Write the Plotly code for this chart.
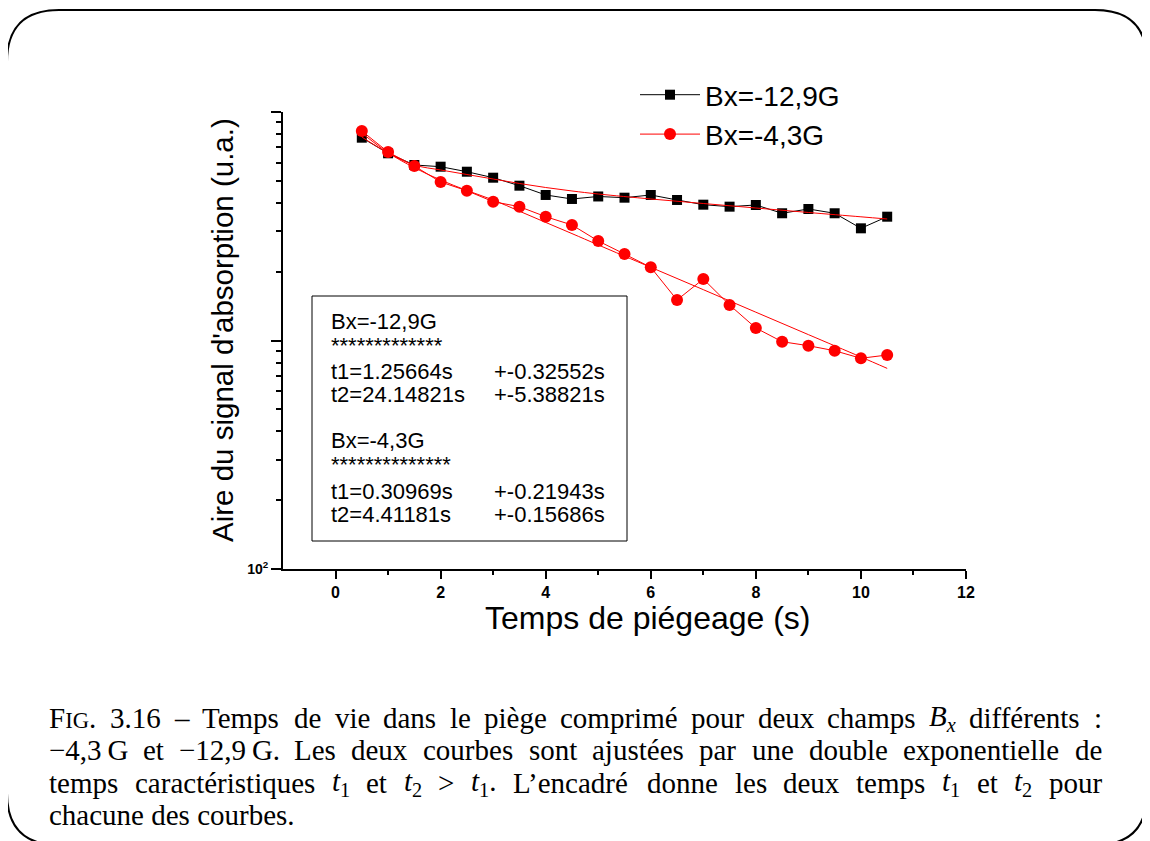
import plotly.graph_objects as go

# ---------------- data ----------------
time_s = [0.5, 1.0, 1.5, 2.0, 2.5, 3.0, 3.5, 4.0, 4.5, 5.0, 5.5,
          6.0, 6.5, 7.0, 7.5, 8.0, 8.5, 9.0, 9.5, 10.0, 10.5]
area_bx_m12_9 = [7719, 6596, 5864, 5763, 5479, 5158, 4759, 4334, 4163, 4269, 4217,
                 4334, 4121, 3930, 3852, 3918, 3604, 3763, 3604, 3097, 3482]
area_bx_m4_3 = [8258, 6682, 5804, 4939, 4524, 4051, 3852, 3482, 3203, 2726, 2390,
                2091, 1504, 1858, 1430, 1134, 988, 949, 902, 836, 864]

fit_time = [0.5, 1.0, 1.5, 2.0, 2.5, 3.0, 3.5, 4.0, 4.5, 5.0, 6.0, 7.0, 8.0, 9.0, 10.0, 10.5]
fit_bx_m12_9 = [7774, 6616, 5864, 5575, 5327, 5090, 4866, 4673, 4512, 4377, 4163, 3977, 3801, 3633, 3478, 3402]
fit_bx_m4_3 = [8091, 6636, 5705, 5039, 4535, 4121, 3681, 3287, 2937, 2620, 2091, 1669, 1330, 1061, 847, 755]

series_names = ["Bx=-12,9G", "Bx=-4,3G"]
x_tick_vals = [0, 2, 4, 6, 8, 10, 12]
x_minor_vals = [1, 3, 5, 7, 9, 11]
y_major_vals = [100, 1000, 10000]
y_major_text = ["10<sup>2</sup>", "", ""]
y_minor_vals = [200, 300, 400, 500, 600, 700, 800, 900,
                2000, 3000, 4000, 5000, 6000, 7000, 8000, 9000]

box_lines_left = ["Bx=-12,9G", "*************", "t1=1.25664s", "t2=24.14821s",
                  "Bx=-4,3G", "**************", "t1=0.30969s", "t2=4.41181s"]
box_lines_right = ["", "", "+-0.32552s", "+-5.38821s", "", "", "+-0.21943s", "+-0.15686s"]
box_line_y_px = [321, 345, 371, 394, 440, 464, 491, 514]

# caption words: each word is a list of (text, style) segments
# styles: n = normal, i = italic, sc = small caps, sub = subscript, subi = italic subscript
caption_justified = [
    [[("F", "n"), ("IG", "sc"), (".", "n")], [("3.16", "n")], [("–", "n")], [("Temps", "n")],
     [("de", "n")], [("vie", "n")], [("dans", "n")], [("le", "n")], [("piège", "n")],
     [("comprimé", "n")], [("pour", "n")], [("deux", "n")], [("champs", "n")],
     [("B", "i"), ("x", "subi")], [("différents", "n")], [(":", "n")]],
    [[("−4,3\u2009G", "n")], [("et", "n")], [("−12,9\u2009G.", "n")], [("Les", "n")],
     [("deux", "n")], [("courbes", "n")], [("sont", "n")], [("ajustées", "n")],
     [("par", "n")], [("une", "n")], [("double", "n")], [("exponentielle", "n")], [("de", "n")]],
    [[("temps", "n")], [("caractéristiques", "n")], [("t", "i"), ("1", "sub")], [("et", "n")],
     [("t", "i"), ("2", "sub")], [(">", "n")], [("t", "i"), ("1", "sub"), (".", "n")],
     [("L’encadré", "n")], [("donne", "n")], [("les", "n")], [("deux", "n")], [("temps", "n")],
     [("t", "i"), ("1", "sub")], [("et", "n")], [("t", "i"), ("2", "sub")], [("pour", "n")]],
]
caption_last = "chacune des courbes."
caption_y_px = [718, 750, 783, 815]

# ---------------- layout geometry (screen pixels) ----------------
OFF = 8                     # default page margin of the html body
W, H = 1150 - OFF, 841 - OFF
L, R, T, B = 283, 966, 112, 569


def px(xp):
    return (xp - L) / (R - L)


def py(yp):
    return (B - yp) / (B - T)


SANS = "Liberation Sans, Arial, sans-serif"
SERIF = "Liberation Serif, Times New Roman, serif"
CAP_SIZE = 29

# Times-Roman advance widths (1/1000 em) used to justify the caption
TW = {" ": 250, ",": 250, "-": 333, ".": 250, ":": 278, ">": 564, "–": 500, "−": 564,
      "’": 333, "é": 444, "è": 444, "\u2009": 167,
      "A": 722, "B": 667, "C": 667, "D": 722, "E": 611, "F": 556, "G": 722, "I": 333,
      "L": 611, "T": 611,
      "a": 444, "b": 500, "c": 444, "d": 500, "e": 444, "f": 333, "g": 500, "h": 500,
      "i": 278, "j": 278, "k": 500, "l": 278, "m": 778, "n": 500, "o": 500, "p": 500,
      "q": 500, "r": 333, "s": 389, "t": 278, "u": 500, "v": 500, "x": 500, "y": 500}
for dgt in "0123456789":
    TW[dgt] = 500
TW_I = {"B": 611, "t": 278, "x": 444}
SC_FACTOR = 0.78


def seg_width(text, style):
    if style == "i":
        return sum(TW_I.get(c, TW.get(c, 500)) for c in text)
    if style == "subi":
        return 0.7 * sum(TW_I.get(c, TW.get(c, 500)) for c in text)
    if style == "sub":
        return 0.7 * sum(TW.get(c, 500) for c in text)
    if style == "sc":
        return SC_FACTOR * sum(TW.get(c, 600) for c in text)
    return sum(TW.get(c, 500) for c in text)


def seg_html(text, style):
    if style == "i":
        return f"<i>{text}</i>"
    if style == "subi":
        return f"<sub><i>{text}</i></sub>"
    if style == "sub":
        return f"<sub>{text}</sub>"
    if style == "sc":
        return f"<span style='font-size:{CAP_SIZE * SC_FACTOR:.1f}px'>{text}</span>"
    return text


fig = go.Figure()

fig.add_trace(go.Scatter(
    x=time_s, y=area_bx_m12_9, mode="lines+markers", name=series_names[0],
    line=dict(color="black", width=1),
    marker=dict(symbol="square", size=10, color="black"),
))
fig.add_trace(go.Scatter(
    x=time_s, y=area_bx_m4_3, mode="lines+markers", name=series_names[1],
    line=dict(color="#ff0000", width=1),
    marker=dict(symbol="circle", size=12, color="#ff0000"),
))
fig.add_trace(go.Scatter(
    x=fit_time, y=fit_bx_m12_9, mode="lines", showlegend=False,
    line=dict(color="#ff0000", width=1, shape="spline"),
))
fig.add_trace(go.Scatter(
    x=fit_time, y=fit_bx_m4_3, mode="lines", showlegend=False,
    line=dict(color="#ff0000", width=1, shape="spline"),
))

annotations = []
# axis titles
annotations.append(dict(text="Temps de piégeage (s)", xref="paper", yref="paper",
                        x=px(648), y=py(618), showarrow=False,
                        font=dict(family=SANS, size=32, color="black"),
                        xanchor="center", yanchor="middle"))
annotations.append(dict(text="Aire du signal d'absorption (u.a.)", xref="paper", yref="paper",
                        x=px(222), y=py(330), showarrow=False, textangle=-90,
                        font=dict(family=SANS, size=29.5, color="black"),
                        xanchor="center", yanchor="middle"))
# text box content
for t, yp in zip(box_lines_left, box_line_y_px):
    annotations.append(dict(text=t, xref="paper", yref="paper", x=px(329), y=py(yp),
                            showarrow=False, xanchor="left", yanchor="middle",
                            font=dict(family=SANS, size=22, color="black")))
for t, yp in zip(box_lines_right, box_line_y_px):
    if t:
        annotations.append(dict(text=t, xref="paper", yref="paper", x=px(492), y=py(yp),
                                showarrow=False, xanchor="left", yanchor="middle",
                                font=dict(family=SANS, size=22, color="black")))
# caption (justified lines)
CAP_X0, CAP_X1 = 47, 1100
for words, yp in zip(caption_justified, caption_y_px):
    widths = [sum(seg_width(t, s) for t, s in wd) * CAP_SIZE / 1000 for wd in words]
    gap = (CAP_X1 - CAP_X0 - sum(widths)) / (len(words) - 1)
    xcur = CAP_X0
    for wd, wdt in zip(words, widths):
        html = "".join(seg_html(t, s) for t, s in wd)
        annotations.append(dict(text=html, xref="paper", yref="paper", x=px(xcur), y=py(yp),
                                showarrow=False, xanchor="left", yanchor="middle",
                                font=dict(family=SERIF, size=CAP_SIZE, color="black")))
        xcur += wdt + gap
annotations.append(dict(text=caption_last, xref="paper", yref="paper", x=px(CAP_X0),
                        y=py(caption_y_px[3]), showarrow=False, xanchor="left",
                        yanchor="middle", font=dict(family=SERIF, size=CAP_SIZE, color="black")))

shapes = []
# inset box
shapes.append(dict(type="rect", xref="paper", yref="paper",
                   x0=px(312), x1=px(627), y0=py(541), y1=py(296),
                   line=dict(color="black", width=1), fillcolor="rgba(0,0,0,0)"))
# rounded page frame
x0, y0, x1, y1, r = 7, 10, 1147, 845, 52
pts = [
    ("M", [(x0 + r, y0)]), ("L", [(x1 - r, y0)]), ("Q", [(x1, y0), (x1, y0 + r)]),
    ("L", [(x1, y1 - r)]), ("Q", [(x1, y1), (x1 - r, y1)]), ("L", [(x0 + r, y1)]),
    ("Q", [(x0, y1), (x0, y1 - r)]), ("L", [(x0, y0 + r)]), ("Q", [(x0, y0), (x0 + r, y0)]),
]
path = ""
for cmd, ps in pts:
    path += cmd + " ".join(f"{px(a):.5f},{py(b):.5f}" for a, b in ps) + " "
path += "Z"
shapes.append(dict(type="path", xref="paper", yref="paper", path=path,
                   line=dict(color="black", width=2)))

fig.update_layout(
    width=W, height=H,
    margin=dict(l=L - OFF, r=W - (R - OFF), t=T - OFF, b=H - (B - OFF), pad=0),
    paper_bgcolor="white", plot_bgcolor="white",
    showlegend=True,
    legend=dict(x=px(635), y=py(70), xanchor="left", yanchor="top",
                font=dict(family=SANS, size=28, color="black"),
                bgcolor="rgba(0,0,0,0)", itemwidth=60, tracegroupgap=0),
    annotations=annotations,
    shapes=shapes,
)

fig.update_xaxes(
    range=[-1, 12], showgrid=False, zeroline=False,
    showline=True, linecolor="black", linewidth=2,
    ticks="outside", ticklen=8, tickwidth=2, tickcolor="black",
    tickmode="array", tickvals=x_tick_vals, ticktext=[str(v) for v in x_tick_vals],
    tickfont=dict(family=SANS, size=16, color="black", weight="bold"),
    minor=dict(ticks="outside", ticklen=4, tickwidth=2, tickcolor="black",
               tickmode="array", tickvals=x_minor_vals, showgrid=False),
)
fig.update_yaxes(
    type="log", range=[2, 4], showgrid=False, zeroline=False,
    showline=True, linecolor="black", linewidth=2,
    ticks="outside", ticklen=10, tickwidth=2, tickcolor="black",
    tickmode="array", tickvals=y_major_vals, ticktext=y_major_text,
    tickfont=dict(family=SANS, size=14, color="black", weight="bold"),
    minor=dict(ticks="outside", ticklen=5, tickwidth=2, tickcolor="black",
               tickmode="array", tickvals=y_minor_vals, showgrid=False),
)

fig.write_html("out.html")
